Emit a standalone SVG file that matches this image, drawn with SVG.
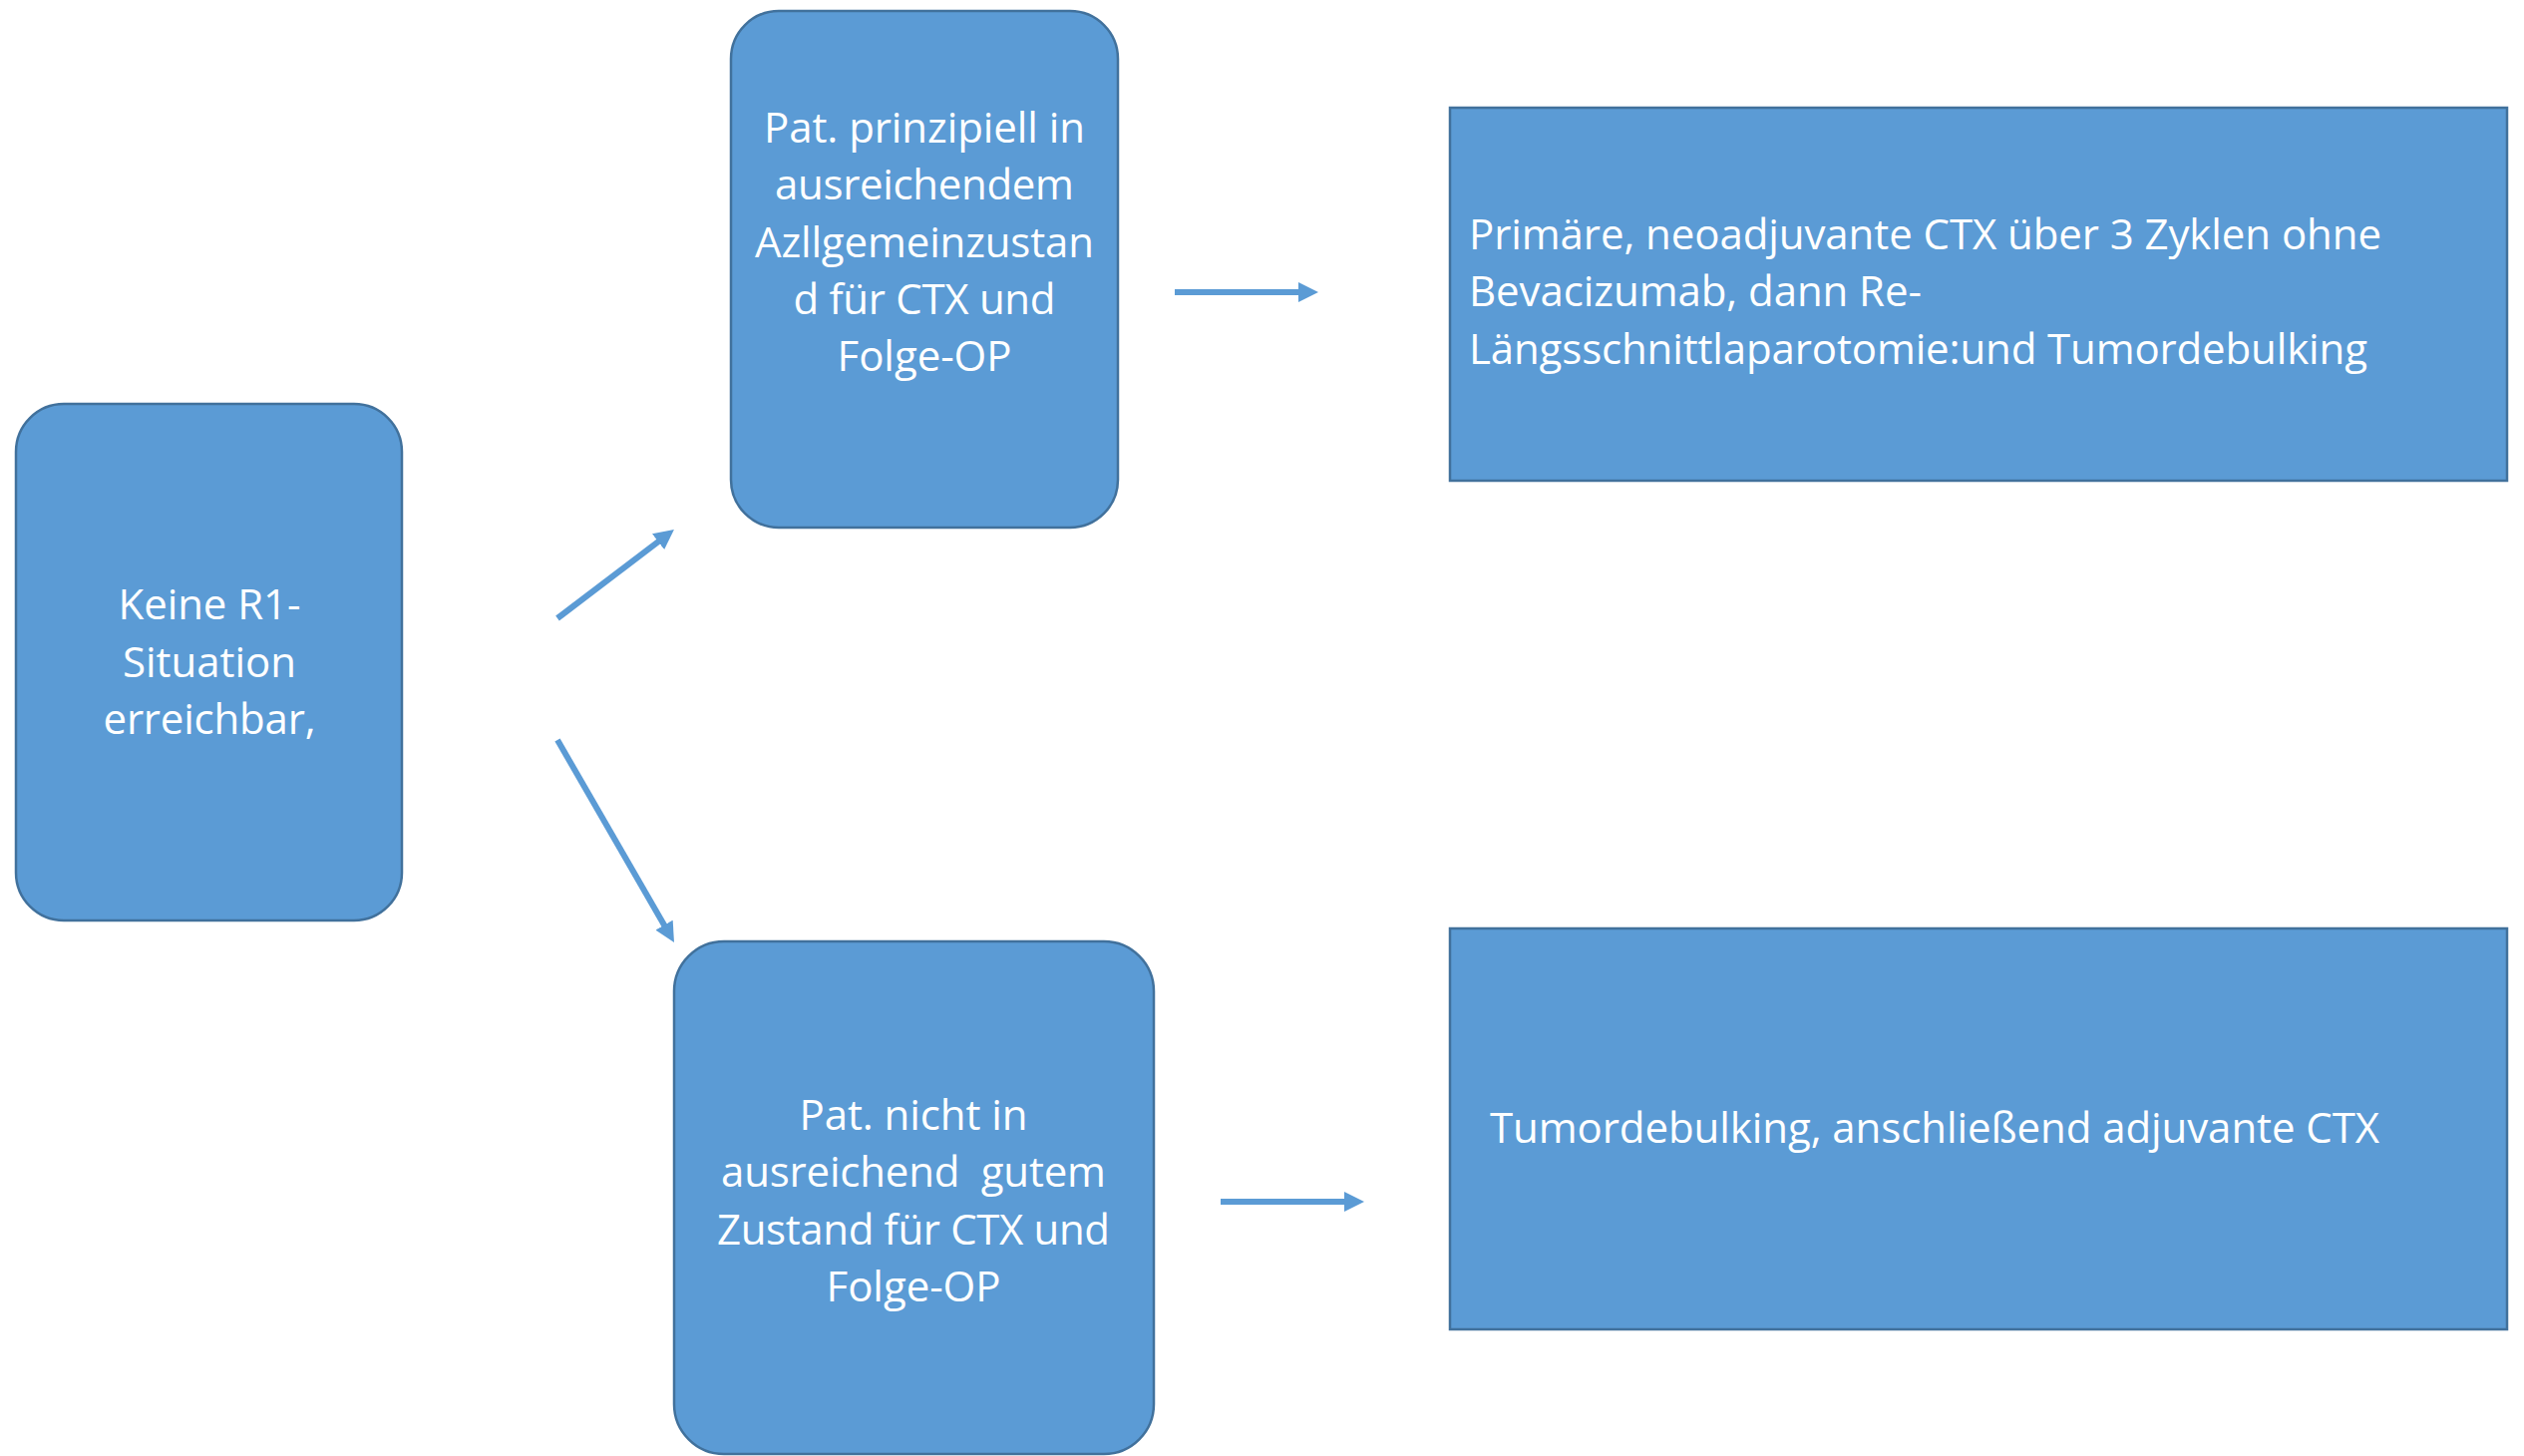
<svg xmlns="http://www.w3.org/2000/svg" width="2531" height="1460" viewBox="0 0 2531 1460">
<style>
.box{fill:#5B9BD5;stroke:#41719C;stroke-width:2.5}
.t{font-family:"Open Sans","Liberation Sans",sans-serif;font-size:42px;fill:#FFFFFF}
.c{text-anchor:middle}
.conn{stroke:#5B9BD5;stroke-width:6;fill:none;marker-end:url(#ah)}
</style>
<defs>
<marker id="ah" markerUnits="userSpaceOnUse" viewBox="0 0 20 20" refX="8" refY="10" markerWidth="20" markerHeight="20" orient="auto">
<path d="M0,0 L20,10 L0,20 z" fill="#5B9BD5"/>
</marker>
</defs>
<rect width="2531" height="1460" fill="#FFFFFF"/>
<g id="n1">
<rect class="box" x="16" y="405" width="387" height="518" rx="48" ry="48"/>
<text class="t c" x="210" y="621" textLength="183">Keine R1-</text>
<text class="t c" x="210" y="679" textLength="174">Situation</text>
<text class="t c" x="210" y="736" textLength="213">erreichbar,</text>
</g>
<g id="n2">
<rect class="box" x="733" y="11" width="388" height="518" rx="48" ry="48"/>
<text class="t c" x="927" y="143" textLength="322">Pat. prinzipiell in</text>
<text class="t c" x="927" y="200" textLength="300">ausreichendem</text>
<text class="t c" x="927" y="258" textLength="340">Azllgemeinzustan</text>
<text class="t c" x="927" y="315" textLength="263">d für CTX und</text>
<text class="t c" x="927" y="372" textLength="175">Folge-OP</text>
</g>
<g id="n3">
<rect class="box" x="1454" y="108" width="1060" height="374"/>
<text class="t" x="1473" y="250" textLength="915">Primäre, neoadjuvante CTX über 3 Zyklen ohne</text>
<text class="t" x="1473" y="307" textLength="454">Bevacizumab, dann Re-</text>
<text class="t" x="1473" y="365" textLength="901">Längsschnittlaparotomie:und Tumordebulking</text>
</g>
<g id="n4">
<rect class="box" x="676" y="944" width="481" height="514" rx="50" ry="50"/>
<text class="t c" x="916" y="1133" textLength="229">Pat. nicht in</text>
<text class="t c" x="916" y="1190" textLength="386" style="white-space:pre">ausreichend  gutem</text>
<text class="t c" x="916" y="1248" textLength="394">Zustand für CTX und</text>
<text class="t c" x="916" y="1305" textLength="175">Folge-OP</text>
</g>
<g id="n5">
<rect class="box" x="1454" y="931" width="1060" height="402"/>
<text class="t" x="1494" y="1146" textLength="892">Tumordebulking, anschließend adjuvante CTX</text>
</g>
<g id="connectors">
<line class="conn" x1="559" y1="620" x2="666.4" y2="538.3"/>
<line class="conn" x1="559" y1="742" x2="670" y2="934.6"/>
<line class="conn" x1="1178" y1="293" x2="1310" y2="293"/>
<line class="conn" x1="1224" y1="1205" x2="1356" y2="1205"/>
</g>
</svg>
